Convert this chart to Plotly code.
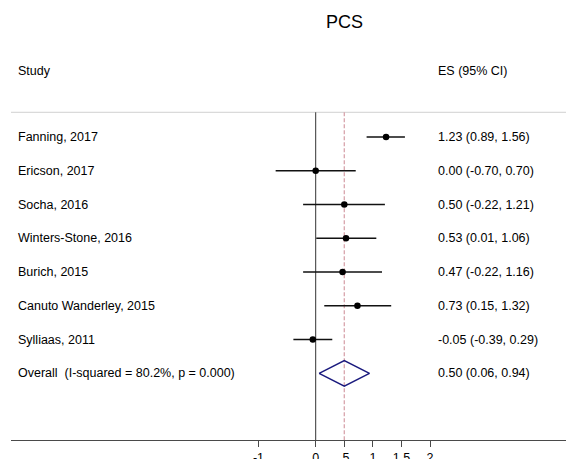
import plotly.graph_objects as go

# ---- data ----
studies = ["Fanning, 2017", "Ericson, 2017", "Socha, 2016", "Winters-Stone, 2016",
           "Burich, 2015", "Canuto Wanderley, 2015", "Sylliaas, 2011"]
es = [1.23, 0.00, 0.50, 0.53, 0.47, 0.73, -0.05]
lo = [0.89, -0.70, -0.22, 0.01, -0.22, 0.15, -0.39]
hi = [1.56, 0.70, 1.21, 1.06, 1.16, 1.32, 0.29]
overall_label = "Overall  (I-squared = 80.2%, p = 0.000)"
overall_es, overall_lo, overall_hi = 0.50, 0.06, 0.94
tick_vals = [-1, 0, 0.5, 1, 1.5, 2]
tick_text = ["-1", "0", ".5", "1", "1.5", "2"]
title_text = "PCS"
col_study = "Study"
col_es = "ES (95% CI)"

# ---- layout helpers (row positions) ----
rows = list(range(1, len(studies) + 1))
overall_row = len(studies) + 1
header_row = -0.955
rule_row = 0.268
axis_row = 9.975
title_row = -2.406
x_text_left = -5.24
x_text_es = 2.10
FONT = "Liberation Sans, Arial, sans-serif"

fig = go.Figure()

# CI lines
for r, a, b in zip(rows, lo, hi):
    fig.add_trace(go.Scatter(x=[a, b], y=[r, r], mode="lines",
                             line=dict(color="#111111", width=1.6),
                             hoverinfo="skip", showlegend=False))
# point estimates
fig.add_trace(go.Scatter(x=es, y=rows, mode="markers",
                         marker=dict(color="black", size=6.5),
                         showlegend=False))
# overall diamond
dh = 0.38
fig.add_trace(go.Scatter(
    x=[overall_lo, overall_es, overall_hi, overall_es, overall_lo],
    y=[overall_row, overall_row - dh, overall_row, overall_row + dh, overall_row],
    mode="lines", line=dict(color="#1a1a7e", width=1.5),
    hoverinfo="skip", showlegend=False))

shapes = []
# top rule
shapes.append(dict(type="line", xref="paper", x0=0, x1=1, yref="y", layer="below",
                   y0=rule_row, y1=rule_row, line=dict(color="#d0d0d0", width=1)))
# null line at 0
shapes.append(dict(type="line", xref="x", x0=0, x1=0, yref="y", layer="below",
                   y0=rule_row, y1=axis_row, line=dict(color="#333333", width=1)))
# overall effect dashed line
shapes.append(dict(type="line", xref="x", x0=overall_es, x1=overall_es, yref="y",
                   layer="below", y0=rule_row, y1=axis_row,
                   line=dict(color="#d8a4ac", width=1.3, dash="4px,2px")))

annotations = []
tf = dict(family=FONT, size=12.5, color="black")
annotations.append(dict(x=x_text_left, y=header_row, xref="x", yref="y", text=col_study,
                        showarrow=False, xanchor="left", yanchor="middle", font=tf))
annotations.append(dict(x=x_text_es, y=header_row, xref="x", yref="y", text=col_es,
                        showarrow=False, xanchor="left", yanchor="middle", font=tf))
for r, s, e, a, b in zip(rows, studies, es, lo, hi):
    annotations.append(dict(x=x_text_left, y=r, xref="x", yref="y", text=s,
                            showarrow=False, xanchor="left", yanchor="middle", font=tf))
    annotations.append(dict(x=x_text_es, y=r, xref="x", yref="y",
                            text=f"{e:.2f} ({a:.2f}, {b:.2f})",
                            showarrow=False, xanchor="left", yanchor="middle", font=tf))
annotations.append(dict(x=x_text_left, y=overall_row, xref="x", yref="y", text=overall_label,
                        showarrow=False, xanchor="left", yanchor="middle", font=tf))
annotations.append(dict(x=x_text_es, y=overall_row, xref="x", yref="y",
                        text=f"{overall_es:.2f} ({overall_lo:.2f}, {overall_hi:.2f})",
                        showarrow=False, xanchor="left", yanchor="middle", font=tf))
annotations.append(dict(x=0.5, y=title_row, xref="x", yref="y", text=title_text,
                        showarrow=False, xanchor="center", yanchor="middle",
                        font=dict(family=FONT, size=18, color="black")))

fig.update_layout(
    width=574, height=459,
    margin=dict(l=3, r=8, t=0, b=27, pad=0),
    paper_bgcolor="white", plot_bgcolor="white",
    shapes=shapes, annotations=annotations,
    xaxis=dict(range=[-5.327, 4.516], showgrid=False, zeroline=False,
               showline=True, linecolor="#4a4a4a", linewidth=1.3,
               ticks="outside", ticklen=6, tickcolor="#4a4a4a", tickwidth=1,
               tickvals=tick_vals, ticktext=tick_text,
               tickfont=dict(family=FONT, size=12.5, color="black"),
               fixedrange=True),
    yaxis=dict(range=[axis_row, -2.821], visible=False, fixedrange=True),
)

fig.write_html("out.html")
